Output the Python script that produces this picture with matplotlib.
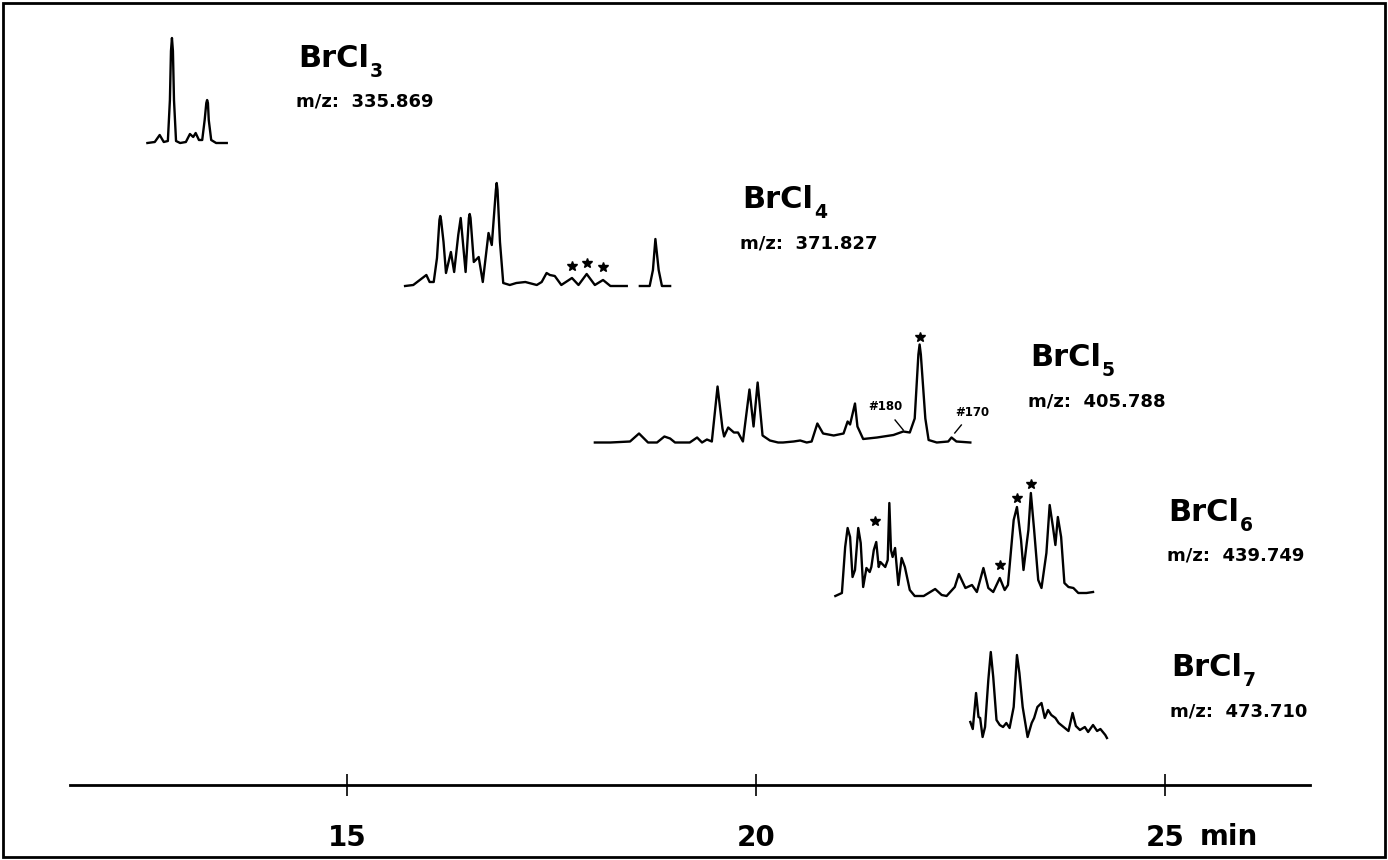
import matplotlib
matplotlib.use("Agg")
import matplotlib.pyplot as plt
import numpy as np
from matplotlib.patches import Rectangle

# retention time (min) and detector response (arbitrary units)
t_brcl3 = [12.56, 12.65, 12.71, 12.76, 12.81, 12.835, 12.848, 12.860, 12.872, 12.885, 12.91,
           12.96, 13.03, 13.08, 13.12, 13.15, 13.19, 13.23, 13.26, 13.28, 13.29, 13.30,
           13.31, 13.34, 13.40, 13.53]
i_brcl3 = [0, 1, 8, 1, 2, 43, 92, 105, 92, 43, 2, 0, 1, 9, 6, 10, 3, 3, 23, 40, 43, 40,
           23, 3, 0, 0]

t_brcl4 = [15.71, 15.81, 15.89, 15.97, 16.01, 16.06, 16.10, 16.13, 16.14, 16.15, 16.18,
           16.21, 16.27, 16.31, 16.36, 16.39, 16.45, 16.49, 16.50, 16.51, 16.55, 16.61,
           16.66, 16.73, 16.77, 16.82, 16.83, 16.84, 16.87, 16.91, 16.99, 17.07, 17.18,
           17.32, 17.38, 17.44, 17.48, 17.54, 17.62, 17.75, 17.83, 17.93, 18.03, 18.13,
           18.22, 18.42, np.nan, 18.58, 18.70, 18.74, 18.77, 18.81, 18.85, 18.95]
i_brcl4 = [0, 1, 6, 11, 4, 4, 28, 66, 70, 66, 44, 13, 34, 14, 51, 68, 14, 68, 72, 68, 24,
           29, 4, 53, 41, 96, 103, 96, 44, 3, 1, 3, 4, 1, 4, 13, 11, 10, 1, 8, 1, 12, 1,
           6, 0, 0, np.nan, 0, 0, 16, 47, 16, 0, 0]

t_brcl5 = [18.03, 18.22, 18.46, 18.57, 18.68, 18.79, 18.88, 18.95, 19.01, 19.19, 19.28,
           19.34, 19.40, 19.46, 19.53, 19.59, 19.61, 19.66, 19.73, 19.78, 19.84, 19.92,
           19.97, 20.02, 20.08, 20.17, 20.27, 20.33, 20.46, 20.54, 20.62, 20.68, 20.75,
           20.82, 20.95, 21.07, 21.12, 21.15, 21.21, 21.24, 21.31, 21.48, 21.68, 21.80,
           21.88, 21.94, 21.985, 22.00, 22.015, 22.07, 22.11, 22.21, 22.35, 22.39, 22.45,
           22.62]
i_brcl5 = [0, 0, 1, 9, 0, 0, 6, 4, 0, 0, 5, 0, 3, 1, 56, 14, 6, 15, 10, 10, 1, 53, 16, 60,
           7, 2, 0, 0, 1, 2, 0, 1, 19, 9, 7, 9, 21, 18, 39, 16, 3.5, 5, 7.5, 11, 10, 24,
           88, 98, 88, 24, 2.5, 0, 1, 5, 1, 0]

t_brcl6 = [20.97, 21.05, 21.09, 21.12, 21.15, 21.18, 21.21, 21.25, 21.28, 21.31, 21.35,
           21.39, 21.41, 21.44, 21.47, 21.50, 21.52, 21.58, 21.61, 21.63, 21.65, 21.67,
           21.70, 21.74, 21.78, 21.82, 21.88, 21.94, 22.05, 22.11, 22.19, 22.27, 22.33,
           22.43, 22.48, 22.56, 22.64, 22.70, 22.78, 22.84, 22.90, 22.98, 23.04, 23.08,
           23.15, 23.19, 23.24, 23.27, 23.31, 23.33, 23.36, 23.40, 23.45, 23.49, 23.55,
           23.59, 23.63, 23.66, 23.69, 23.73, 23.77, 23.82, 23.88, 23.94, 24.04, 24.12]
i_brcl6 = [0, 3, 49, 68, 59, 19, 26, 68, 53, 9, 28, 24, 29, 46, 54, 29, 34, 29, 36, 93, 46,
           39, 48, 11, 38, 29, 6, 0, 0, 3, 7, 1, 0, 9, 22, 8, 11, 4, 28, 8, 4, 18, 6, 11,
           76, 89, 56, 26, 53, 66, 103, 66, 16, 8, 43, 91, 69, 51, 79, 59, 13, 9, 8, 3, 3, 4]

t_brcl7 = [22.62, 22.65, 22.69, 22.72, 22.74, 22.77, 22.80, 22.84, 22.87, 22.90, 22.94,
           22.98, 23.02, 23.06, 23.10, 23.15, 23.19, 23.22, 23.26, 23.32, 23.37, 23.40,
           23.44, 23.49, 23.53, 23.57, 23.61, 23.66, 23.70, 23.76, 23.82, 23.87, 23.91,
           23.96, 24.02, 24.06, 24.12, 24.17, 24.21, 24.27, 24.29]
i_brcl7 = [16, 9, 45, 21, 20, 1, 11, 58, 86, 61, 18, 13, 11, 15, 10, 31, 83, 65, 31, 1, 15,
           20, 31, 35, 20, 28, 23, 20, 15, 11, 7, 25, 12, 8, 11, 6, 13, 7, 9, 3, 0]

names = ["BrCl", "BrCl", "BrCl", "BrCl", "BrCl"]
n_cl = ["3", "4", "5", "6", "7"]
mz = ["335.869", "371.827", "405.788", "439.749", "473.710"]

# marked peaks (*)
star_t = [[], [17.75, 17.93, 18.13], [22.00], [21.45, 22.98, 23.19, 23.36], []]
star_i = [[], [20, 23, 19], [106], [75, 31, 98, 112], []]

traces = [(t_brcl3, i_brcl3), (t_brcl4, i_brcl4), (t_brcl5, i_brcl5),
          (t_brcl6, i_brcl6), (t_brcl7, i_brcl7)]

plt.rcParams["font.family"] = ["DejaVu Sans"]

fig = plt.figure(figsize=(13.88, 8.6), dpi=100)
ax = fig.add_axes([0, 0, 1, 1])
ax.set_xlim(10.758, 27.726)
ax.set_ylim(0, 860)

# vertical offset of each trace's baseline, label anchor (x in min)
base = [717, 574, 417.5, 264, 122]
lab_x = [14.40, 19.83, 23.35, 25.04, 25.08]
lab_y = [793, 652, 494, 339, 184]

for k, (t, inten) in enumerate(traces):
    ax.plot(t, np.array(inten, dtype=float) + base[k], color="black", lw=1.7,
            solid_joinstyle="round")
    if star_t[k]:
        ax.plot(star_t[k], np.array(star_i[k], dtype=float) + base[k], ls="none",
                marker="*", ms=7, color="black")
    title = ax.text(lab_x[k], lab_y[k], names[k], fontsize=22, fontweight="bold",
                    ha="left", va="baseline")
    ax.annotate(n_cl[k], xy=(1, 0), xycoords=title, xytext=(0.5, -3),
                textcoords="offset points", fontsize=13.5, fontweight="bold",
                ha="left", va="baseline")
    ax.text(lab_x[k] - 0.02, lab_y[k] - 40, "m/z:  " + mz[k], fontsize=13,
            fontweight="bold", ha="left", va="baseline")

# PCB number tags on the BrCl5 trace
ax.text(21.37, 453, "#180", fontsize=8.5, fontweight="bold", ha="left", va="center")
ax.plot([21.70, 21.80], [440, 430], color="black", lw=1)
ax.text(22.44, 447, "#170", fontsize=8.5, fontweight="bold", ha="left", va="center")
ax.plot([22.51, 22.43], [435, 427], color="black", lw=1)

for s in ["top", "left", "right"]:
    ax.spines[s].set_visible(False)
ax.spines["bottom"].set_position(("data", 75))
ax.spines["bottom"].set_bounds(11.61, 26.77)
ax.spines["bottom"].set_linewidth(2)
ax.set_yticks([])
ax.set_xticks([15, 20, 25])
ax.set_xticklabels(["15", "20", "25"], fontsize=20, fontweight="bold")
ax.tick_params(axis="x", direction="inout", length=16, width=1.2, pad=20)
ax.text(25.43, 15, "min", fontsize=20, fontweight="bold", ha="left", va="baseline")

fig.patches.append(Rectangle((0.002, 0.003), 0.996, 0.994, transform=fig.transFigure,
                             fill=False, edgecolor="black", lw=2))

fig.savefig("out.png", dpi=100)
